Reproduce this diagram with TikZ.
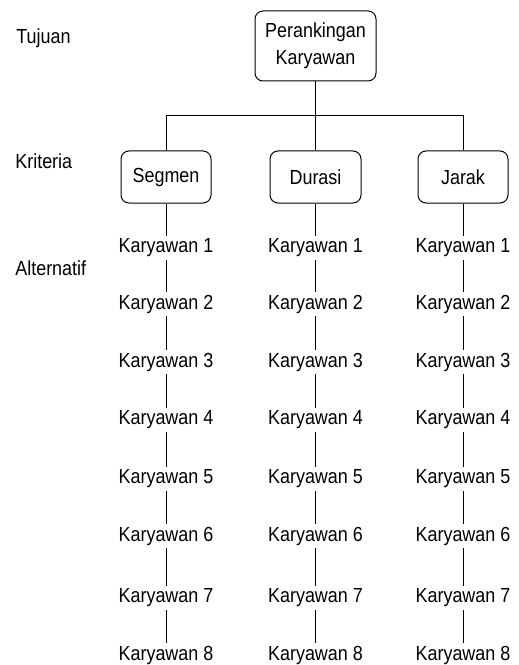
\documentclass[tikz,border=0pt]{standalone}
\usepackage{fontspec}
\setmainfont{Liberation Sans}[FakeStretch=0.88]
\usepackage{tikz}
\usetikzlibrary{positioning}

\tikzset{
  kotak/.style={draw, line width=0.2mm, rounded corners=1.6mm, align=center, font=\fontsize{11.6}{15.2}\selectfont},
  karyawan/.style={inner sep=0pt, minimum height=4.8mm, font=\fontsize{11.6}{13.5}\selectfont},
  tingkat/.style={anchor=west, inner sep=0pt, font=\fontsize{11.6}{13.5}\selectfont},
  garis/.style={line width=0.2mm}
}

\begin{document}
\begin{tikzpicture}[x=0.2mm, y=-0.2mm]

\useasboundingbox (0,0) rectangle (519,665);

% levels
\node[tingkat] (tujuan) at (16,38) {Tujuan};
\node[tingkat] (kriteria) at (15,161) {Kriteria};
\node[tingkat] (alternatif) at (15,268) {Alternatif};

% goal and criteria
\node[kotak, minimum width=24.2mm, minimum height=14mm] (top) at (315.5,46) {Perankingan\\Karyawan};

\node[kotak, minimum width=18mm, minimum height=10.4mm] (seg) at (166,177) {Segmen};
\node[kotak, minimum width=18.2mm, minimum height=10.4mm] (dur) at (315.5,177) {Durasi};
\node[kotak, minimum width=18mm, minimum height=10.4mm] (jar) at (463,177) {Jarak};

\coordinate (bar) at (0,116);

\draw[garis] (top) -- (dur);
\draw[garis] (seg) -- (seg.north |- bar) -- (jar.north |- bar) -- (jar);

% alternatives
\foreach \col/\x in {seg/166, dur/315.5, jar/463}{
  \foreach \i/\y in {1/248, 2/304, 3/362, 4/420, 5/479, 6/536, 7/598, 8/655}
    \node[karyawan] (\col\i) at (\x,\y) {Karyawan \i};
  \draw[garis] (\col) -- (\col1);
  \foreach \j/\i in {1/2, 2/3, 3/4, 4/5, 5/6, 6/7, 7/8}
    \draw[garis] (\col\j) -- (\col\i);
}

\end{tikzpicture}
\end{document}
